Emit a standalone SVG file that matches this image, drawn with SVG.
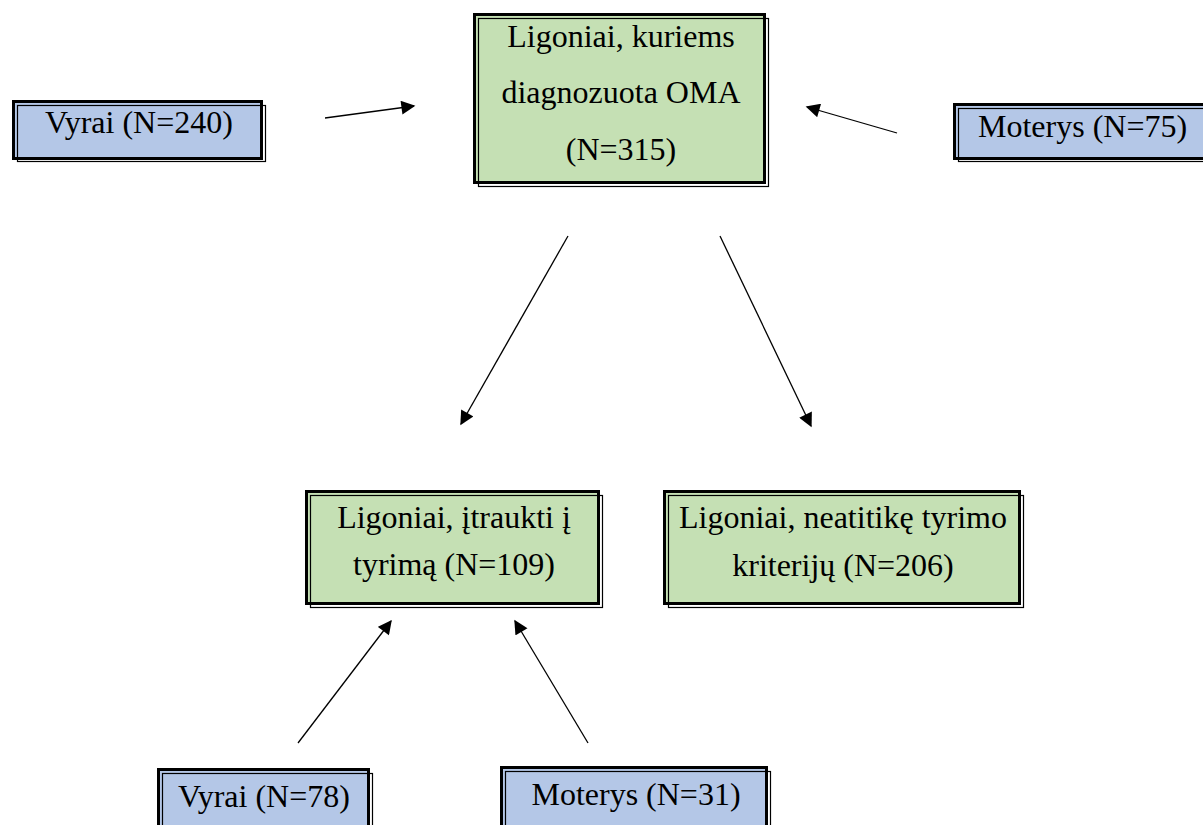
<svg xmlns="http://www.w3.org/2000/svg" width="1203" height="825" viewBox="0 0 1203 825">
<defs>
<style>
.t{font-family:"Liberation Serif","Times New Roman","DejaVu Serif",serif;font-size:32px;fill:#000;text-anchor:middle}
.thick{fill:none;stroke:#000;stroke-width:3}
.thin{fill:none;stroke:#000;stroke-width:1.2}
.blue{fill:#B4C7E7}
.green{fill:#C5E0B4}
.conn{stroke:#000;stroke-width:1.3;fill:none;marker-end:url(#ah)}
</style>
<marker id="ah" viewBox="0 0 10 10" refX="9" refY="5" markerWidth="15" markerHeight="14" markerUnits="userSpaceOnUse" orient="auto">
<path d="M0,0 L10,5 L0,10 z" fill="#000"/>
</marker>
</defs>
<rect width="1203" height="825" fill="#fff"/>
<g id="connectors">
<line class="conn" x1="325" y1="118" x2="414" y2="106"/>
<line class="conn" x1="897" y1="133" x2="807" y2="107"/>
<line class="conn" x1="568" y1="236" x2="461" y2="424"/>
<line class="conn" x1="720" y1="236" x2="811" y2="426"/>
<line class="conn" x1="298" y1="743" x2="391" y2="621"/>
<line class="conn" x1="588" y1="743" x2="515" y2="621"/>
</g>
<g id="vyrai240">
<rect class="blue" x="12" y="100" width="251" height="60"/>
<rect class="thick" x="13.5" y="101.5" width="248" height="57"/>
<rect class="thin" x="17.5" y="105.5" width="248" height="56"/>
<text class="t" x="139" y="133">Vyrai (N=240)</text>
</g>
<g id="oma">
<rect class="green" x="473" y="13" width="293" height="171"/>
<rect class="thick" x="474.5" y="14.5" width="290" height="168"/>
<rect class="thin" x="478.5" y="18.5" width="290" height="168"/>
<text class="t" x="621" y="47">Ligoniai, kuriems</text>
<text class="t" x="621" y="103">diagnozuota OMA</text>
<text class="t" x="621" y="160">(N=315)</text>
</g>
<g id="moterys75">
<rect class="blue" x="953" y="103" width="260" height="57"/>
<rect class="thick" x="954.5" y="104.5" width="260" height="54"/>
<rect class="thin" x="958.5" y="108.5" width="260" height="53"/>
<text class="t" x="978" y="137" style="text-anchor:start">Moterys (N=75)</text>
</g>
<g id="itraukti">
<rect class="green" x="305" y="490" width="295" height="115"/>
<rect class="thick" x="306.5" y="491.5" width="292" height="112"/>
<rect class="thin" x="310.5" y="495.5" width="292" height="112"/>
<text class="t" x="454" y="528">Ligoniai, įtraukti į</text>
<text class="t" x="454" y="575">tyrimą (N=109)</text>
</g>
<g id="neatitike">
<rect class="green" x="663" y="490" width="358" height="115"/>
<rect class="thick" x="664.5" y="491.5" width="355" height="112"/>
<rect class="thin" x="668.5" y="495.5" width="355" height="112"/>
<text class="t" x="843" y="528">Ligoniai, neatitikę tyrimo</text>
<text class="t" x="843" y="576">kriterijų (N=206)</text>
</g>
<g id="vyrai78">
<rect class="blue" x="157" y="768" width="213" height="70"/>
<rect class="thick" x="158.5" y="769.5" width="210" height="70"/>
<rect class="thin" x="162.5" y="773.5" width="210" height="70"/>
<text class="t" x="264" y="807">Vyrai (N=78)</text>
</g>
<g id="moterys31">
<rect class="blue" x="500" y="766" width="268" height="70"/>
<rect class="thick" x="501.5" y="767.5" width="265" height="70"/>
<rect class="thin" x="505.5" y="771.5" width="265" height="70"/>
<text class="t" x="636" y="805">Moterys (N=31)</text>
</g>
</svg>
